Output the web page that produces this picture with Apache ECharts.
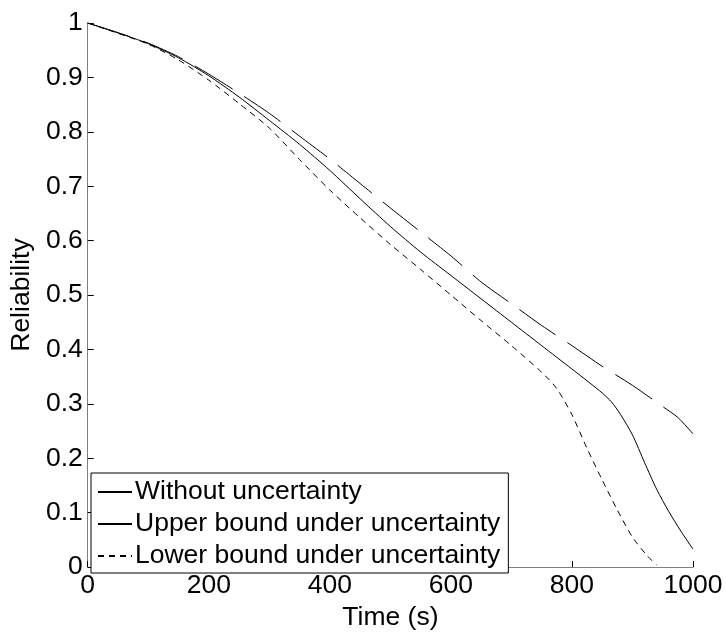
<!DOCTYPE html>
<html>
<head>
<meta charset="utf-8">
<script src="https://cdn.jsdelivr.net/npm/echarts@6/dist/echarts.min.js"></script>
<style>
html,body{margin:0;padding:0;background:#fff;}
#chart{width:726px;height:636px;}
</style>
</head>
<body>
<div id="chart"></div>
<script>
var seriesNames = ['Without uncertainty', 'Upper bound under uncertainty', 'Lower bound under uncertainty'];
var xTicks = [0, 200, 400, 600, 800, 1000];
var yTicks = [0, 0.1, 0.2, 0.3, 0.4, 0.5, 0.6, 0.7, 0.8, 0.9, 1];

var withoutT = [0, 50, 100, 150, 200, 250, 300, 350, 400, 450, 500, 550, 600, 650, 700, 750, 800, 830, 850, 865, 880, 900, 920, 940, 960, 980, 1000];
var withoutR = [1, 0.982, 0.962, 0.936, 0.903, 0.864, 0.821, 0.777, 0.729, 0.677, 0.626, 0.579, 0.536, 0.493, 0.450, 0.407, 0.364, 0.338, 0.320, 0.304, 0.281, 0.243, 0.192, 0.143, 0.102, 0.066, 0.033];

var upperT = [0, 50, 100, 150, 200, 250, 300, 350, 400, 450, 500, 550, 600, 650, 700, 750, 800, 850, 900, 950, 975, 1000];
var upperR = [1, 0.982, 0.963, 0.938, 0.906, 0.871, 0.834, 0.792, 0.750, 0.705, 0.660, 0.616, 0.572, 0.524, 0.484, 0.444, 0.407, 0.369, 0.334, 0.295, 0.275, 0.245];

var lowerT = [0, 50, 100, 150, 200, 250, 300, 350, 400, 450, 500, 550, 600, 650, 700, 750, 775, 800, 825, 850, 875, 900, 925, 940];
var lowerR = [1, 0.981, 0.961, 0.932, 0.895, 0.852, 0.807, 0.749, 0.693, 0.642, 0.593, 0.547, 0.500, 0.453, 0.407, 0.358, 0.328, 0.280, 0.218, 0.160, 0.105, 0.055, 0.020, 0.004];

function pairs(t, r) { return t.map(function (v, i) { return [v, r[i]]; }); }

var FONT = "'Liberation Sans', Arial, Helvetica, sans-serif";
var FS = 26.5;
var chart = echarts.init(document.getElementById('chart'), null, {renderer: 'canvas'});

chart.setOption({
  animation: false,
  backgroundColor: '#fff',
  grid: {left: 85, right: 33, top: 23, bottom: 56, containLabel: false},
  legend: {
    orient: 'vertical',
    left: 91,
    top: 473,
    padding: [4, 8, 2, 6],
    itemGap: 2,
    itemWidth: 34,
    itemHeight: 14,
    backgroundColor: '#fff',
    borderColor: '#000',
    borderWidth: 1,
    borderRadius: 0,
    itemStyle: {opacity: 0},
    textStyle: {fontFamily: FONT, fontSize: FS, color: '#000', lineHeight: 30, padding: [0, 0, 0, -2]},
    data: seriesNames
  },
  xAxis: {
    type: 'value',
    min: 0, max: 1000, interval: 200,
    name: 'Time (s)',
    nameLocation: 'middle',
    nameGap: 27,
    nameTextStyle: {fontFamily: FONT, fontSize: FS, color: '#000'},
    axisLine: {show: true, lineStyle: {color: '#7f7f7f', width: 1}},
    axisTick: {show: true, inside: true, length: 6, lineStyle: {color: '#000'}},
    axisLabel: {fontFamily: FONT, fontSize: FS, color: '#000', margin: 5,
      formatter: function (v) { return xTicks.indexOf(v) >= 0 ? String(v) : ''; }},
    splitLine: {show: false}
  },
  yAxis: {
    type: 'value',
    min: 0, max: 1, interval: 0.1,
    name: 'Reliability',
    nameLocation: 'middle',
    nameGap: 46,
    nameTextStyle: {fontFamily: FONT, fontSize: FS, color: '#000'},
    axisLine: {show: true, lineStyle: {color: '#7f7f7f', width: 1}},
    axisTick: {show: true, inside: true, length: 6, lineStyle: {color: '#000'}},
    axisLabel: {fontFamily: FONT, fontSize: FS, color: '#000', margin: 5,
      formatter: function (v) {
        var r = Math.round(v * 10) / 10;
        for (var i = 0; i < yTicks.length; i++) { if (Math.abs(yTicks[i] - r) < 1e-9) return String(yTicks[i]); }
        return '';
      }},
    splitLine: {show: false}
  },
  series: [
    {name: seriesNames[0], type: 'line', data: pairs(withoutT, withoutR), symbol: 'none', smooth: 0.25,
      lineStyle: {color: '#000', width: 1, type: 'solid'}, itemStyle: {color: '#000'}},
    {name: seriesNames[1], type: 'line', data: pairs(upperT, upperR), symbol: 'none', smooth: 0.25,
      lineStyle: {color: '#000', width: 1, type: [44, 14]}, itemStyle: {color: '#000'}},
    {name: seriesNames[2], type: 'line', data: pairs(lowerT, lowerR), symbol: 'none', smooth: 0.25,
      lineStyle: {color: '#000', width: 1, type: [6, 5]}, itemStyle: {color: '#000'}}
  ]
});
</script>
</body>
</html>
